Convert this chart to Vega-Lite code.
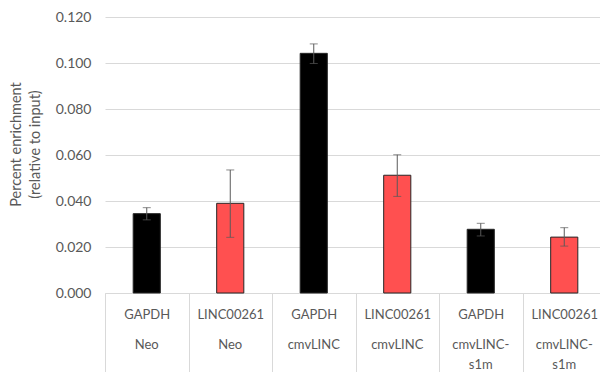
{
  "$schema": "https://vega.github.io/schema/vega-lite/v6.json",
  "width": 501,
  "height": 276,
  "autosize": "none",
  "padding": {"left": 105, "top": 17, "right": 0, "bottom": 80},
  "config": {
    "view": {"stroke": null},
    "axis": {"labelFont": "Lato", "titleFont": "Lato", "labelColor": "#595959", "titleColor": "#595959", "labelFontSize": 13, "titleFontSize": 14.5, "titleFontWeight": "normal"}
  },
  "data": {
    "values": [
      {"key": "GAPDH|Neo", "gene": "GAPDH", "value": 0.0345, "lo": 0.0318, "hi": 0.0371},
      {"key": "LINC00261|Neo", "gene": "LINC00261", "value": 0.0390, "lo": 0.0242, "hi": 0.0535},
      {"key": "GAPDH|cmvLINC", "gene": "GAPDH", "value": 0.1042, "lo": 0.0998, "hi": 0.1083},
      {"key": "LINC00261|cmvLINC", "gene": "LINC00261", "value": 0.0512, "lo": 0.0420, "hi": 0.0601},
      {"key": "GAPDH|cmvLINC-|s1m", "gene": "GAPDH", "value": 0.0277, "lo": 0.0248, "hi": 0.0303},
      {"key": "LINC00261|cmvLINC-|s1m", "gene": "LINC00261", "value": 0.0243, "lo": 0.0204, "hi": 0.0284}
    ]
  },
  "layer": [
    {
      "mark": {"type": "bar", "width": {"band": 0.325}, "stroke": "#262626", "strokeWidth": 1},
      "encoding": {
        "x": {
          "field": "key", "type": "nominal", "sort": null,
          "scale": {"paddingInner": 0, "paddingOuter": 0},
          "axis": {"orient": "bottom", "title": null, "labelAngle": 0, "domainColor": "#D9D9D9", "tickColor": "#D9D9D9", "tickSize": 80, "tickBand": "extent", "labelExpr": "split(datum.label, '|')[0]", "labelBaseline": "middle", "labelPadding": -59}
        },
        "y": {
          "field": "value", "type": "quantitative",
          "scale": {"domain": [0, 0.12], "nice": false},
          "axis": {"title": ["Percent enrichment", "(relative to input)"], "values": [0, 0.02, 0.04, 0.06, 0.08, 0.1, 0.12], "format": ".3f", "grid": true, "gridColor": "#D9D9D9", "domain": false, "ticks": false, "labelFontSize": 14, "labelPadding": 14, "titlePadding": 13, "titleY": 127, "titleLineHeight": 19}
        },
        "color": {"field": "gene", "type": "nominal", "scale": {"domain": ["GAPDH", "LINC00261"], "range": ["#000000", "#FF5050"]}, "legend": null}
      }
    },
    {
      "mark": {"type": "rule", "color": "#595959", "strokeWidth": 1},
      "encoding": {
        "x": {
          "field": "key", "type": "nominal", "sort": null,
          "axis": {"orient": "bottom", "title": null, "labelAngle": 0, "domain": false, "ticks": false, "labelExpr": "slice(split(datum.label, '|'), 1)", "labelBaseline": "top", "labelPadding": 45, "labelLineHeight": 20}
        },
        "y": {"field": "lo", "type": "quantitative"},
        "y2": {"field": "hi"}
      }
    },
    {
      "mark": {"type": "tick", "color": "#595959", "size": 8, "thickness": 1},
      "encoding": {
        "x": {"field": "key", "type": "nominal", "sort": null, "axis": null},
        "y": {"field": "lo", "type": "quantitative"}
      }
    },
    {
      "mark": {"type": "tick", "color": "#595959", "size": 8, "thickness": 1},
      "encoding": {
        "x": {"field": "key", "type": "nominal", "sort": null, "axis": null},
        "y": {"field": "hi", "type": "quantitative"}
      }
    }
  ],
  "resolve": {"axis": {"x": "independent"}}
}
